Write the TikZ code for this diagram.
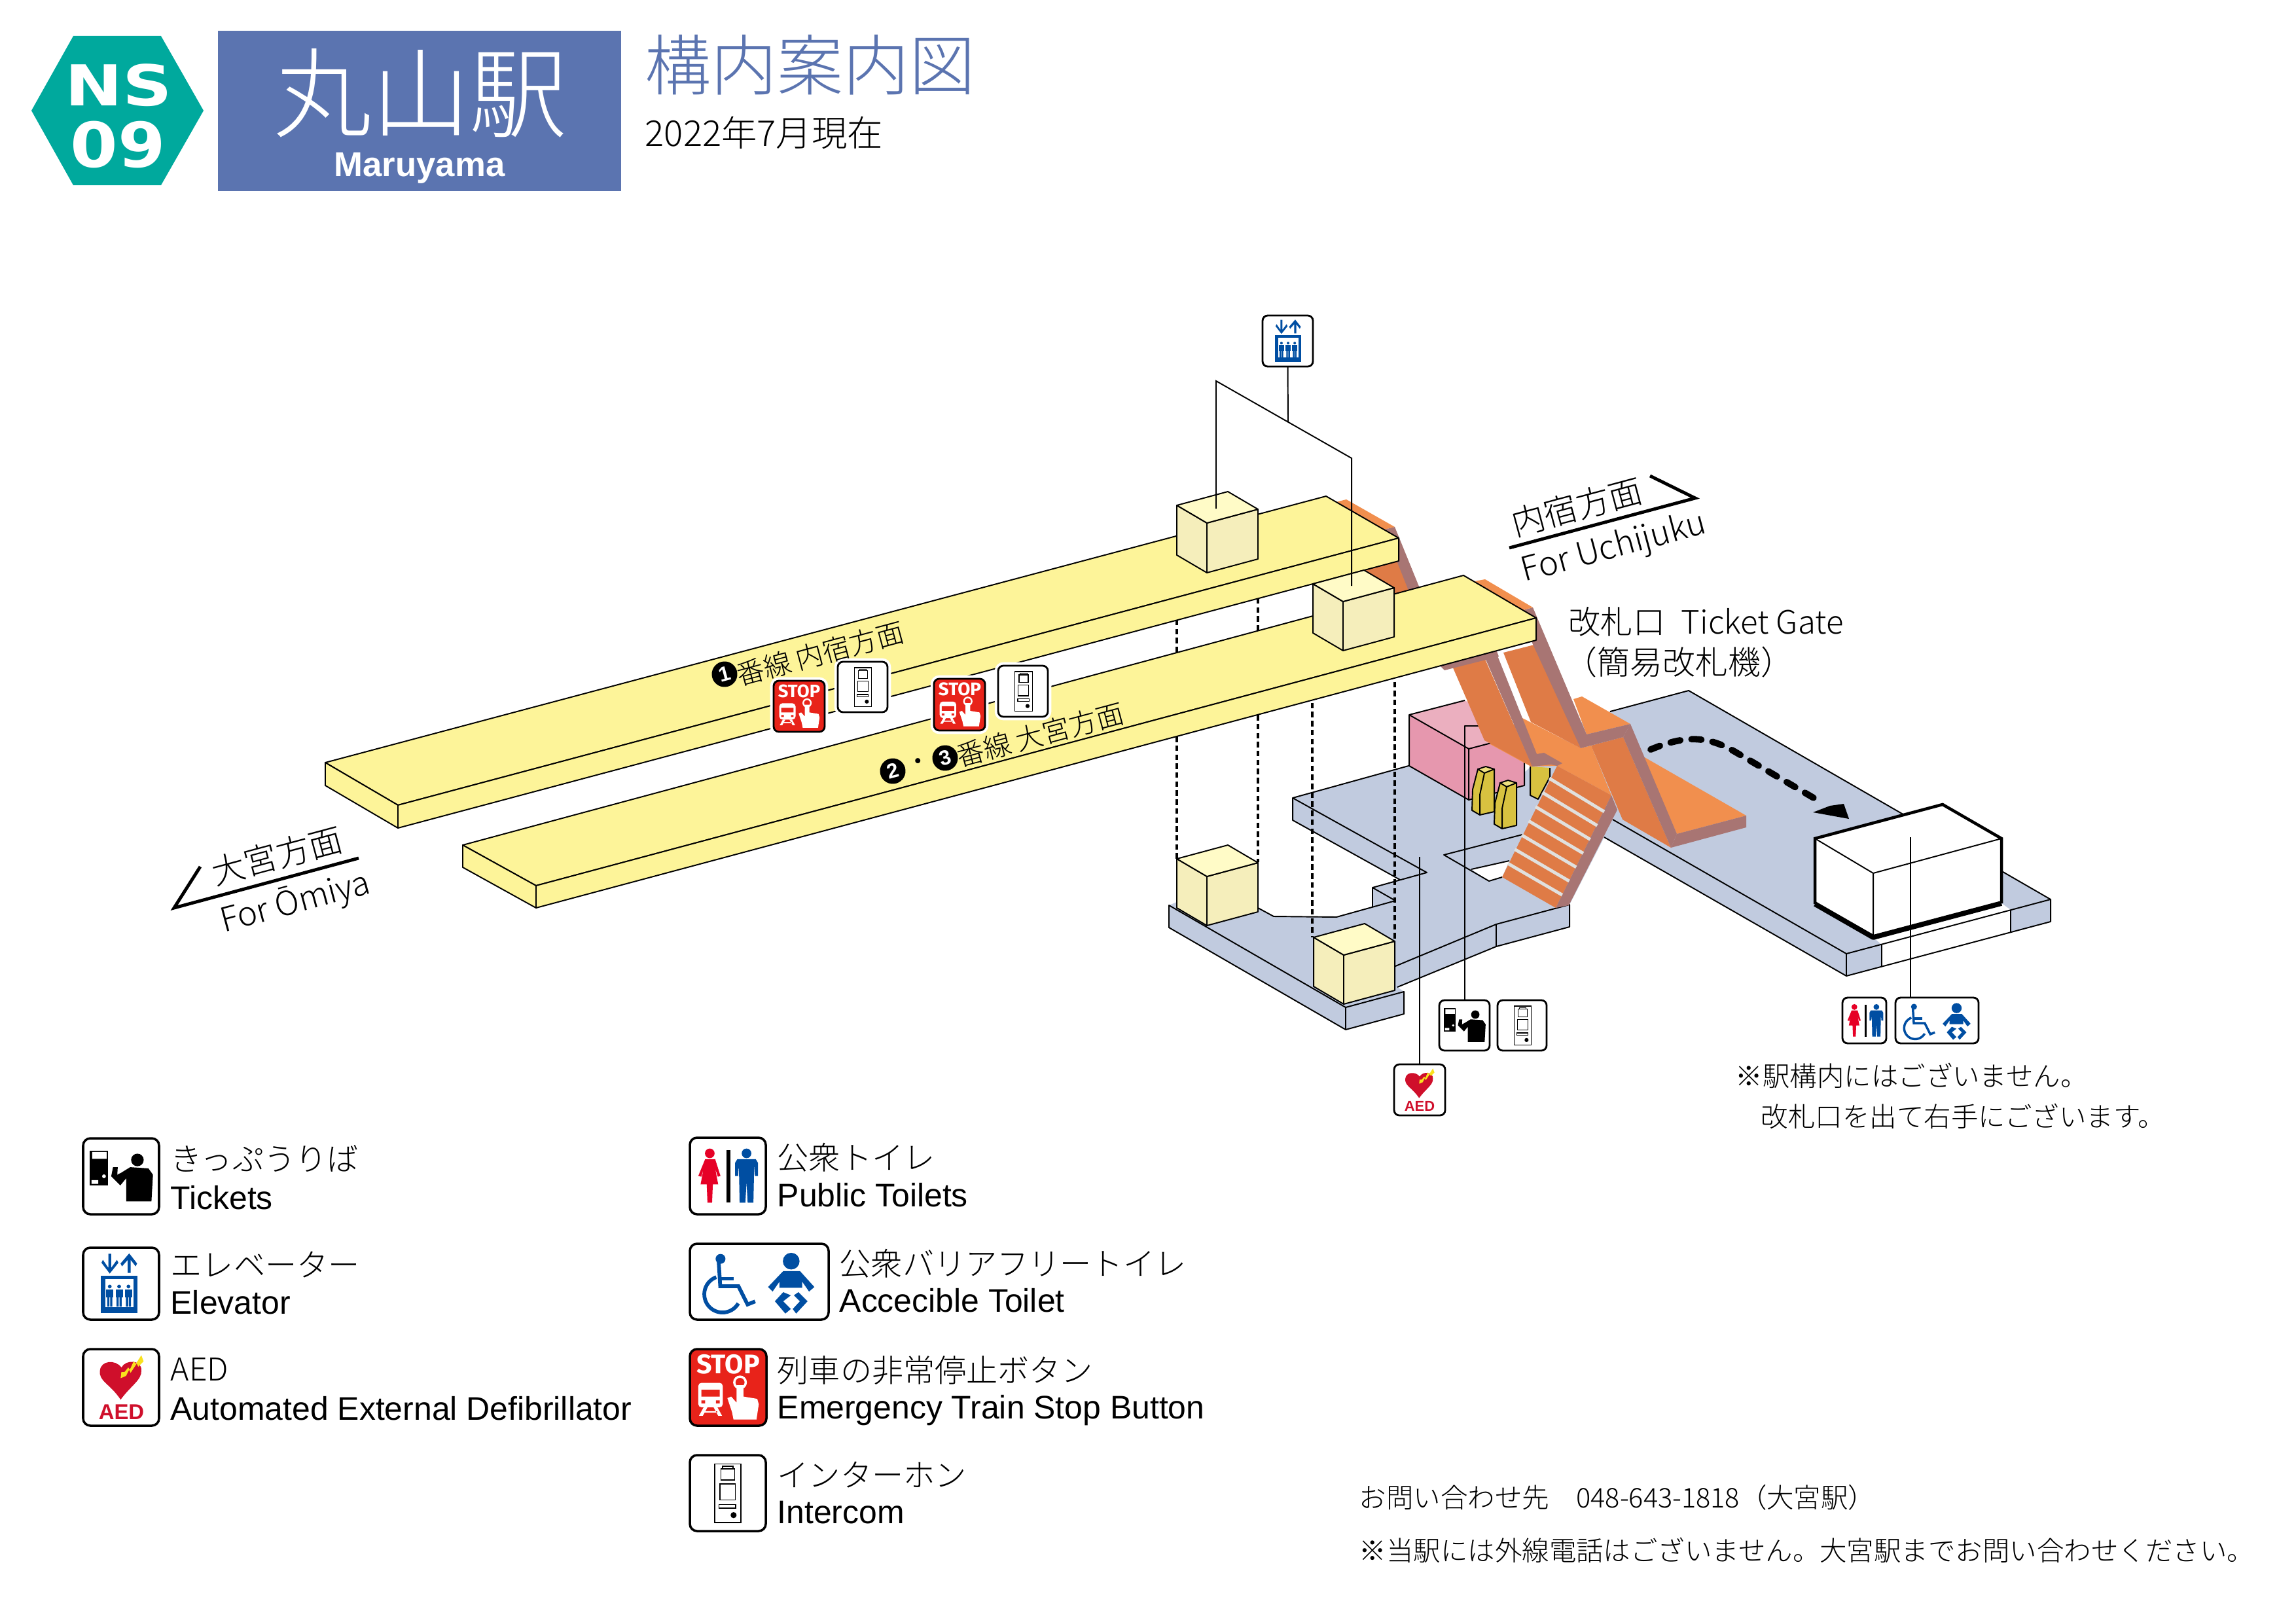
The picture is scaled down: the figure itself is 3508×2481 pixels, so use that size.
\documentclass[tikz,border=0pt]{standalone}
\usepackage{fontspec}
\setmainfont{Liberation Sans}
\newfontfamily\jp{Noto Sans CJK JP Light}
\newfontfamily\wide{DejaVu Sans}
\newfontfamily\signfont{Fira Sans}
\newcommand{\fs}[1]{\fontsize{#1}{#1}\selectfont}
\definecolor{hexteal}{HTML}{00A99D}
\definecolor{titleblue}{HTML}{5B74B0}
\definecolor{floorblue}{HTML}{C1CBDF}
\definecolor{slabyellow}{HTML}{FDF499}
\definecolor{boxtop}{HTML}{FFFBC7}
\definecolor{boxside}{HTML}{F5EEBB}
\definecolor{pinktop}{HTML}{EBAFBF}
\definecolor{pinkside}{HTML}{E697AE}
\definecolor{landorange}{HTML}{F18F4E}
\definecolor{slopeorange}{HTML}{DF7B46}
\definecolor{sidemauve}{HTML}{A87573}
\definecolor{stepgrey}{HTML}{E0E0DE}
\definecolor{gateyellow}{HTML}{D8C240}
\definecolor{gatetop}{HTML}{EEE07F}
\definecolor{signblue}{HTML}{004EA2}
\definecolor{signred}{HTML}{E60026}
\definecolor{aedred}{HTML}{CF0F2B}
\definecolor{aedbolt}{HTML}{F9E11E}
\definecolor{stopred}{HTML}{E8231A}
\tikzset{
  thinline/.style={line width=.55pt,line join=round},
  legend ja/.style={anchor=west,inner sep=0pt,font=\jp\fs{13.7}},
  legend en/.style={anchor=west,inner sep=0pt,font=\fs{14.2}},
  noteword/.style={anchor=west,inner sep=0pt,font=\jp\fs{11.8}},
  roadword/.style={inner sep=0pt,rotate=15,font=\jp\fs{14.5}},
  lineword/.style={inner sep=0pt,rotate=15,font=\jp\fs{12}},
  linecircle/.style={circle,fill=black,text=white,inner sep=0pt,minimum size=3.9mm,rotate=15,font=\bfseries\fs{9}},
  signbox/.style={draw=black,fill=white,rounded corners=1.1mm,line width=1pt,inner sep=0pt,outer sep=0pt,anchor=north west},
  mapsign/.style={signbox,line width=.8pt,rounded corners=.8mm,preaction={draw=white,line width=3pt}},
  stopfill/.style={fill=stopred},
  dashline/.style={line width=.9pt,dash pattern=on 2.4pt off 1.5pt},
  walkline/.style={line width=2.8pt,line cap=round,dash pattern=on 4.3pt off 4.9pt},
  roadarrow/.style={line width=1.4pt,miter limit=10}
}
\newcommand{\placesign}[7][]{%
  \node[signbox,minimum width=#5*0.1mm,minimum height=#6*0.1mm,#1] (#2) at (#3,#4) {};
  \begin{scope}[shift={(#3,#4)},scale=#6/100]
    \pgfmathsetlengthmacro\glyphlw{#6/100*1.5*0.2845pt}
    #7
  \end{scope}}
\newcommand{\ticketglyph}{%
  \fill (9,16) rectangle (33,62);
  \fill[white] (12,18) rectangle (31,27) (11,55) rectangle (20,60) (27.5,50) circle (2.5);
  \fill (71.5,28.5) circle (8.3);
  \fill (50.7,45) -- (62,38) -- (86,39.6) -- (92,48) -- (90,83) -- (56.7,83) -- (56.7,52.6) -- (49,62) -- (37,50) -- (39.4,38) -- (45.6,38) -- (45,48) -- cycle;}
\newcommand{\elevglyph}{%
  \fill[signblue] (35,8.5) -- (39,8.5) -- (39,28) -- (47,17) -- (49,21) -- (37,36) -- (25.5,21) -- (27.5,17) -- (35,28) -- cycle;
  \fill[signblue] (62,35) -- (66,35) -- (66,17) -- (73,26) -- (75,22) -- (64,8) -- (52,22) -- (54,26) -- (62,17) -- cycle;
  \fill[signblue] (24.6,39) rectangle (75.9,90.6);
  \fill[white] (30.5,44) rectangle (70.4,82.5);
  \foreach \px in {37,50,63}{
    \fill[signblue] (\px,54) circle (2.6);
    \fill[signblue] (\px-5,58) rectangle (\px+5,69);
    \fill[signblue] (\px-3.5,69) rectangle (\px-.5,82) (\px+.5,69) rectangle (\px+3.5,82);
  }}
\newcommand{\aedglyph}{%
  \fill[aedred] (49,66) .. controls (35,45) and (20,42) .. (22,28) .. controls (23,15) and (42,13) .. (50,24) .. controls (56,13) and (77,14) .. (76,28) .. controls (77,40) and (62,48) .. (49,66) -- cycle;
  \fill[aedbolt] (76,8) -- (79,16) -- (72,23) -- (70,19) -- (62,31) -- (60,27) -- (56,35) -- (49,38) -- (50,30) -- (54,30) -- (59,24) -- (61,27) -- (66,16) -- (69,19) -- cycle;
  \node[transform shape,inner sep=0pt,text=aedred,font=\bfseries\fs{8}] (aedword) at (50,82) {AED};}
\newcommand{\stopglyph}{%
  \node[transform shape,inner sep=0pt,text=white,font=\signfont\bfseries\fs{10}] (stopword) at (50,20) {STOP};
  \fill[white,rounded corners=.5mm] (11,44) rectangle (43,76);
  \fill[stopred] (15,53) rectangle (39,62) (15,67) rectangle (20,71) (34,67) rectangle (39,71);
  \fill[white] (18,76) -- (12,87) -- (17,87) -- (23,76) -- cycle (36,76) -- (42,87) -- (37,87) -- (31,76) -- cycle (18,81) rectangle (36,83);
  \draw[white,line width={2*\glyphlw}] (65.5,43.5) circle (7.5);
  \fill[white] (49,64) -- (54,62) -- (61,70) -- (61,47) -- (70,47) -- (70,62) -- (88,65) -- (90,72) -- (87,92) -- (57,92) -- (55,82) -- cycle;}
\newcommand{\phoneglyph}{%
  \draw[line width=\glyphlw] (33,11.6) rectangle (67,88.8) (41,18) rectangle (59,32.6) (43,14.4) rectangle (56.6,18) (39.4,38) rectangle (60,59) (38.4,65) rectangle (60.6,69.5);
  \fill (57.6,79) circle (4);}
\newcommand{\toiletglyph}{%
  \fill[signred] (26,20.5) circle (6.3);
  \fill[signred] (20,28) -- (33,28) -- (40,50) -- (36.5,51) -- (33,40) -- (37,61) -- (30,61) -- (29,85) -- (23,85) -- (22,61) -- (14,61) -- (18,40) -- (15,51) -- (11,50) -- cycle;
  \fill (48,16) rectangle (53,85);
  \fill[signblue] (74,20.5) circle (6.3);
  \fill[signblue] (62,28) -- (86,28) -- (89,33) -- (89,50) -- (85,50) -- (84,36) -- (83,85) -- (75.5,85) -- (74,58) -- (72.5,85) -- (65,85) -- (64,36) -- (63,50) -- (59,50) -- (59,33) -- cycle;}
\newcommand{\accessglyph}{%
  \fill[signblue] (40.4,20) circle (6.5);
  \draw[signblue,line width={3.3*\glyphlw},line join=miter] (38,24) -- (40,56) -- (64,56) -- (76,80) -- (86,76);
  \draw[signblue,line width={3.3*\glyphlw}] (40,46) -- (58,46);
  \draw[signblue,line width={3.3*\glyphlw}] plot[smooth,samples=30,domain=30:250,variable=\t] ({43+24*cos(\t)},{66.6+24*sin(\t)});
  \fill[signblue] (133.5,23) circle (11);
  \fill[signblue] (123,36) -- (145,36) -- (164,57) -- (157,63) -- (148,50) -- (148,58) -- (118,58) -- (118,50) -- (109,63) -- (103,57) -- cycle;
  \fill[signblue] (123,63.8) -- (112,75.8) -- (125.8,92) -- (133,86) -- (123,75.8) -- (133,68) -- cycle;
  \fill[signblue] (143,63.8) -- (155,75.8) -- (140,92) -- (135.5,86) -- (145,75.8) -- (137,68) -- cycle;}
\begin{document}
\begin{tikzpicture}[x=0.1mm,y=-0.1mm]
\useasboundingbox (0,0) rectangle (3508,2481);
\fill[hexteal] (48,169) -- (112,55) -- (246,55) -- (311,169) -- (246,283) -- (112,283) -- cycle;
\node[text=white,inner sep=0pt,xscale=1.22,font=\wide\bfseries\fs{24.5}] (hexline) at (181,130) {NS};
\node[text=white,inner sep=0pt,xscale=1.1,font=\wide\bfseries\fs{27}] (hexnum) at (180,221) {09};
\fill[titleblue] (333,47) rectangle (949,292);
\node[text=white,inner sep=0pt,font=\jp\fs{42.5}] (stationja) at (643,142) {丸山駅};
\node[text=white,inner sep=0pt,font=\bfseries\fs{15}] (stationen) at (641,257) {Maruyama};
\node[text=titleblue,anchor=west,inner sep=0pt,font=\jp\fs{28.7}] (maptitle) at (985,99) {構内案内図};
\node[anchor=west,inner sep=0pt,font=\jp\fs{15.5}] (mapdate) at (985,203) {2022年7月現在};
\placesign[mapsign]{ticketsign}{2199}{1528}{77}{77}{\ticketglyph}
\placesign[mapsign]{phonesign}{2288}{1528}{75}{77}{\phoneglyph}
\placesign[mapsign]{aedsign}{2130}{1626}{78}{78}{\aedglyph}
\placesign[mapsign]{toiletsign}{2815}{1524}{67}{70}{\toiletglyph}
\placesign[mapsign]{accesssign}{2896}{1524}{127}{70}{\accessglyph}
\placesign[mapsign]{elevsign}{1929}{482}{77}{78}{\elevglyph}
\fill[floorblue] (1975,1219) -- (2152,1170) -- (2329,1180) -- (2420,1100) -- (2460,1087) -- (2580,1055) -- (3133,1374) -- (3133,1408) -- (2821,1491) -- (2451,1279) -- (2398,1382) -- (2398,1416) -- (2286,1446) -- (2135,1508) -- (2145,1515) -- (2145,1549) -- (2056,1573) -- (1786,1417) -- (1786,1383) -- (1798,1378) -- (1922,1387) -- (1946,1400) -- (2042,1401) -- (2097,1386) -- (2097,1356) -- (2139,1343) -- (1975,1253) -- cycle;
\fill[white] (2248,1328) -- (2306,1315) -- (2295,1340) -- (2275,1346) -- cycle;
\fill[white] (2862,1432) -- (3058,1380) -- (3072,1390) -- (3072,1424) -- (2875,1476) -- (2875,1443) -- cycle;
\draw[thinline] (2152,1170) -- (1975,1219) -- (2180,1333) -- (2097,1356) -- (2132,1376) -- (2042,1401) -- (1946,1400) -- (1922,1387);
\draw[thinline] (1975,1219) -- (1975,1253) -- (2139,1344);
\draw[thinline] (2097,1356) -- (2097,1386);
\draw[thinline] (1786,1383) -- (2056,1539) -- (2145,1515) -- (2145,1549) -- (2056,1573) -- (1786,1417) -- cycle;
\draw[thinline] (2056,1539) -- (2056,1573);
\draw[thinline] (2132,1476) -- (2286,1412) -- (2398,1382) -- (2398,1416) -- (2286,1446) -- (2135,1508);
\draw[thinline] (2286,1412) -- (2286,1446);
\draw[thinline] (2326,1275) -- (2206,1306) -- (2275,1346) -- (2295,1340);
\draw[thinline] (2248,1328) -- (2306,1315);
\draw[thinline] (2460,1087) -- (2580,1055) -- (3133,1374) -- (3133,1408) -- (2821,1491) -- (2451,1279);
\draw[thinline] (2464,1252) -- (2821,1457) -- (3133,1374);
\draw[thinline] (2821,1457) -- (2821,1491) (2875,1443) -- (2875,1476) (3072,1390) -- (3072,1424);
\fill[pinktop] (2153,1092) -- (2238,1070) -- (2329,1122) -- (2244,1144) -- cycle;
\fill[pinkside] (2153,1092) -- (2244,1144) -- (2329,1122) -- (2329,1200) -- (2244,1222) -- (2153,1170) -- cycle;
\draw[thinline] (2329,1122) -- (2329,1200) -- (2244,1222) -- (2153,1170) -- (2153,1092) -- (2238,1070);
\draw[thinline] (2153,1092) -- (2244,1144) -- (2290,1132) (2244,1144) -- (2244,1222);
\fill[gateyellow] (2338,1171) -- (2338,1215) -- (2350,1221) -- (2368,1187) -- (2368,1173) -- cycle;
\draw[thinline] (2338,1171) -- (2338,1215) -- (2350,1221) -- (2368,1187) -- (2368,1173);
\foreach \gx/\gy in {2258/1175,2292/1196}{
  \fill[gateyellow,draw=black,thinline] (\gx,\gy) -- (\gx-8,\gy+31) -- (\gx-9,\gy+63) -- (\gx+3,\gy+70) -- (\gx+25,\gy+65) -- (\gx+25,\gy) -- cycle;
  \fill[gatetop,draw=black,thinline] (\gx,\gy) -- (\gx+12,\gy-4) -- (\gx+25,\gy) -- (\gx+10,\gy+6) -- cycle;
  \draw[thinline] (\gx+10,\gy+6) -- (\gx+3,\gy+39) -- (\gx+3,\gy+70);
}
\coordinate (aedlead) at (2169,1309);
\coordinate (ticketlead) at (2259,1109);
\coordinate (wclead) at (2919,1279);
\draw[thinline] (aedsign.north) -- (aedlead);
\draw[thinline] (ticketsign.north) |- (ticketlead);
\fill[landorange] (2404,1068) -- (2417,1064) -- (2491,1106) -- (2424,1122) -- cycle;
\fill[landorange] (2511,1156) -- (2668,1246) -- (2562,1274) -- cycle;
\fill[sidemauve] (2562,1274) -- (2668,1246) -- (2668,1264) -- (2553,1295) -- cycle;
\fill[slopeorange] (2431,1139) -- (2480,1126) -- (2553,1295) -- (2479,1252) -- cycle;
\fill[sidemauve] (2480,1126) -- (2491,1106) -- (2562,1274) -- (2553,1295) -- cycle;
\fill[landorange] (2277,1137) -- (2326,1097) -- (2415,1143) -- (2431,1139) -- (2462,1215) -- (2379,1170) -- (2339,1171) -- cycle;
\fill[slopeorange] (2379,1170) -- (2462,1215) -- (2377,1387) -- (2295,1340) -- cycle;
\fill[sidemauve] (2462,1215) -- (2471,1237) -- (2397,1383) -- (2377,1387) -- cycle;
\foreach \i in {0,...,6}{
  \draw[stepgrey,line width=1.4pt] ({2367-10.5*\i},{1189+21.7*\i}) -- ({2451-10.7*\i},{1240+21.2*\i});
}
\fill[slopeorange] (2297,997) -- (2348,984) -- (2415,1143) -- (2339,1103) -- cycle;
\fill[sidemauve] (2327,932) -- (2342,928) -- (2424,1122) -- (2491,1106) -- (2480,1126) -- (2415,1143) -- (2340,980) -- cycle;
\fill[slopeorange] (2219,1018) -- (2268,1005) -- (2341,1171) -- (2268,1131) -- cycle;
\fill[sidemauve] (2268,1003) -- (2286,997) -- (2348,1152) -- (2359,1150) -- (2387,1166) -- (2379,1170) -- (2370,1168) -- (2341,1171) -- cycle;
\coordinate (walkstart) at (2522,1145);
\coordinate (walkend) at (2783,1226);
\draw[walkline] (walkstart) .. controls (2570,1125) and (2605,1122) .. (2650,1148) -- (walkend);
\fill (2825,1251) -- (2770,1241) -- (2796,1231) -- (2817,1228) -- cycle;
\fill[white] (2773,1281) -- (2968,1229) -- (3058,1281) -- (3058,1380) -- (2862,1432) -- (2773,1381) -- cycle;
\draw[thinline] (2773,1281) -- (2862,1334) -- (3058,1281) (2862,1334) -- (2862,1432);
\draw[line width=1.3pt,line join=miter] (2773,1381) -- (2773,1281) -- (2968,1229) -- (3058,1281) -- (3058,1380);
\draw[line width=2.2pt,line join=round] (2773,1381) -- (2862,1432) -- (3058,1380);
\draw[thinline] (wclead) -- (wclead |- accesssign.north);
\foreach \dx/\dy/\dz in {1798/947/1312,1922/914/1317,2005/1060/1432,2131/973/1437}{
  \draw[dashline] (\dx,\dy) -- (\dx,\dz);
}
\fill[landorange] (2041,767) -- (2057,763) -- (2131,805) -- (2115,809) -- cycle;
\fill[slopeorange] (2086,870) -- (2135,857) -- (2175,960) -- (2126,973) -- cycle;
\fill[sidemauve] (2115,809) -- (2131,805) -- (2190,950) -- (2175,960) -- cycle;
\fill[landorange] (2253,888) -- (2269,885) -- (2342,928) -- (2327,932) -- cycle;
\fill[sidemauve] (2201,1018) -- (2285,990) -- (2290,1003) -- (2207,1024) -- cycle;
\foreach \ax/\ay/\bx/\by/\cx/\cy/\dx/\dy/\hh in {497/1165/2026/758/2137/822/608/1230/35,707/1291/2236/879/2347/944/819/1353/34}{
  \fill[slabyellow,draw=black,thinline] (\ax,\ay) -- (\bx,\by) -- (\cx,\cy) -- (\dx,\dy) -- cycle;
  \fill[slabyellow,draw=black,thinline] (\ax,\ay) -- (\dx,\dy) -- (\cx,\cy) -- (\cx,\cy+\hh) -- (\dx,\dy+\hh) -- (\ax,\ay+\hh) -- cycle;
  \draw[thinline] (\dx,\dy) -- (\dx,\dy+\hh);
}
\foreach \bx/\by/\hh in {1798/772/76,2006/892/75,1798/1312/75,2007/1432/75}{
  \fill[boxside,draw=black,thinline] (\bx,\by) -- (\bx+46,\by+27) -- (\bx+124,\by+6) -- (\bx+124,\by+6+\hh) -- (\bx+46,\by+27+\hh) -- (\bx,\by+\hh) -- cycle;
  \fill[boxtop,draw=black,thinline] (\bx,\by) -- (\bx+78,\by-21) -- (\bx+124,\by+6) -- (\bx+46,\by+27) -- cycle;
  \draw[thinline] (\bx+46,\by+27) -- (\bx+46,\by+27+\hh);
}
\coordinate (wireleft) at (1858,777);
\coordinate (wirejoin) at (1968,645);
\coordinate (wireright) at (2065,895);
\draw[thinline,line join=miter] (wireleft) -- (1858,582) -- (2065,700) -- (wireright);
\draw[thinline] (elevsign.south) -- (wirejoin);
\placesign[mapsign,stopfill]{stopone}{1182}{1040}{78}{78}{\stopglyph}
\placesign[mapsign]{phoneone}{1280}{1011}{76}{77}{\phoneglyph}
\placesign[mapsign,stopfill]{stoptwo}{1427}{1037}{78}{79}{\stopglyph}
\placesign[mapsign]{phonetwo}{1525}{1017}{76}{78}{\phoneglyph}
\node[linecircle] (lineone) at (1107,1030) {1};
\node[lineword] (lineonejp) at (1253,998) {番線 内宿方面};
\node[linecircle] (linetwo) at (1364,1178) {2};
\node[lineword] (linedot) at (1404,1168) {・};
\node[linecircle] (linethree) at (1444,1158) {3};
\node[lineword] (linetwojp) at (1589,1122) {番線 大宮方面};
\coordinate (upback) at (2521,727);
\coordinate (uptip) at (2590,761);
\coordinate (upend) at (2306,837);
\draw[roadarrow] (upback) -- (uptip) -- (upend);
\coordinate (downback) at (306,1324);
\coordinate (downtip) at (266,1387);
\coordinate (downend) at (548,1311);
\draw[roadarrow] (downback) -- (downtip) -- (downend);
\node[roadword] (upja) at (2409,774) {内宿方面};
\node[roadword] (upen) at (2466,838) {For Uchijuku};
\node[roadword] (downja) at (423,1307) {大宮方面};
\node[roadword] (downen) at (451,1379) {For Ōmiya};
\node[anchor=west,inner sep=0pt,font=\jp\fs{14}] (gateword) at (2396,950) {改札口\hspace{.5em}Ticket Gate};
\node[anchor=west,inner sep=0pt,font=\jp\fs{14.2}] (gatenote) at (2390,1012) {（簡易改札機）};
\node[noteword] (wcnoteone) at (2651,1643) {※駅構内にはございません。};
\node[noteword] (wcnotetwo) at (2690,1705) {改札口を出て右手にございます。};
\placesign{ticketkey}{127}{1739}{116}{116}{\ticketglyph}
\placesign{elevkey}{127}{1906}{116}{110}{\elevglyph}
\placesign{aedkey}{127}{2061}{116}{117}{\aedglyph}
\placesign{toiletkey}{1054}{1738}{116}{117}{\toiletglyph}
\placesign{accesskey}{1054}{1900}{212}{116}{\accessglyph}
\placesign[stopfill]{stopkey}{1054}{2061}{117}{117}{\stopglyph}
\placesign{phonekey}{1054}{2223}{116}{116}{\phoneglyph}
\foreach \nm/\lx/\ya/\yb/\ja/\en in {tick/260/1770/1830/きっぷうりば/Tickets,elev/260/1932/1990/エレベーター/Elevator,aed/260/2092/2152/AED/Automated External Defibrillator,toil/1187/1768/1826/公衆トイレ/Public Toilets,acc/1282/1930/1987/公衆バリアフリートイレ/Accecible Toilet,stp/1187/2093/2155/列車の非常停止ボタン/Emergency Train Stop Button,pho/1187/2253/2311/インターホン/Intercom}{
  \node[legend ja] (\nm-ja) at (\lx,\ya) {\ja};
  \node[legend en] (\nm-en) at (\lx,\yb) {\en};
}
\node[noteword] (contactone) at (2076,2288) {お問い合わせ先　048-643-1818（大宮駅）};
\node[noteword] (contacttwo) at (2076,2368) {※当駅には外線電話はございません。大宮駅までお問い合わせください。};
\end{tikzpicture}
\end{document}
